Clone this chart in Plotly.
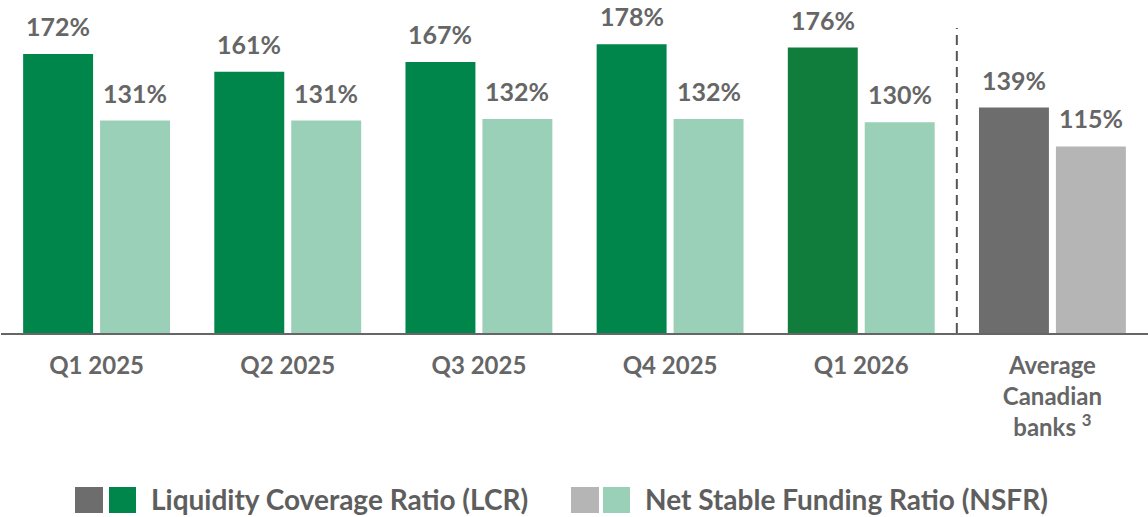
import plotly.graph_objects as go

periods = ["Q1 2025", "Q2 2025", "Q3 2025", "Q4 2025", "Q1 2026",
           "Average<br>Canadian<br>banks <sup>3</sup>"]
lcr = [172, 161, 167, 178, 176, 139]
nsfr = [131, 131, 132, 132, 130, 115]
lcr_colors = ["#00854A", "#00854A", "#00854A", "#00854A", "#117D3D", "#6D6D6D"]
nsfr_colors = ["#9ACFB8", "#9ACFB8", "#9ACFB8", "#9ACFB8", "#9ACFB8", "#B5B5B5"]
legend_names = ["Liquidity Coverage Ratio (LCR)", "Net Stable Funding Ratio (NSFR)"]

W, H = 1148, 517
L, R, T, B = 1, 0, 0, 184
PW, PH = W - L - R, H - T - B
YMAX = 205.3
FONT = "Lato"
TXT = "#666666"

def px_x(px):
    return (px - L) / PW

def px_y(py):
    return (H - B - py) / PH

x = list(range(len(periods)))
fig = go.Figure()
fig.add_trace(go.Bar(x=x, y=lcr, marker=dict(color=lcr_colors, line=dict(width=0)),
                     name=legend_names[0], showlegend=False))
fig.add_trace(go.Bar(x=x, y=nsfr, marker=dict(color=nsfr_colors, line=dict(width=0)),
                     name=legend_names[1], showlegend=False))

ann = []
off = 0.201
for i in x:
    for v, dx in ((lcr[i], -off), (nsfr[i], off)):
        ann.append(dict(x=i + dx, y=v, xref="x", yref="y", text=f"<b>{v}%</b>",
                        showarrow=False, yanchor="bottom", yshift=11,
                        font=dict(family=FONT, size=25, color=TXT)))

# legend (drawn)
shapes = []
sw = [(75, 103, "#6D6D6D"), (109, 136, "#00854A"), (571, 599, "#B5B5B5"), (603, 630, "#9ACFB8")]
for x0, x1, c in sw:
    shapes.append(dict(type="rect", xref="paper", yref="paper",
                       x0=px_x(x0), x1=px_x(x1), y0=px_y(513), y1=px_y(487),
                       fillcolor=c, line=dict(width=0)))
for tx, name in ((149, legend_names[0]), (643, legend_names[1])):
    ann.append(dict(x=px_x(tx), y=px_y(499), xref="paper", yref="paper", text=f"<b>{name}</b>",
                    showarrow=False, xanchor="left", yanchor="middle",
                    font=dict(family=FONT, size=28, color="#5E5E5E")))

# separator
shapes.append(dict(type="line", xref="x", yref="y", x0=4.5, x1=4.5, y0=0, y1=188,
                   line=dict(color="#555555", width=2, dash="10px,6px")))

fig.update_layout(
    width=W, height=H, margin=dict(l=L, r=R, t=T, b=B),
    paper_bgcolor="white", plot_bgcolor="white",
    barmode="group", bargap=0.195, bargroupgap=0.091,
    annotations=ann, shapes=shapes,
    xaxis=dict(tickmode="array", tickvals=x, ticktext=[f"<b>{p}</b>" for p in periods],
               range=[-0.5, 5.5], showline=True, linecolor="#666666", linewidth=2,
               showgrid=False, zeroline=False, ticks="", ticklabelstandoff=10,
               tickfont=dict(family=FONT, size=24, color=TXT)),
    yaxis=dict(range=[0, YMAX], visible=False, showgrid=False, zeroline=False),
)
fig.write_html("out.html", config={"displayModeBar": False},
               post_script="document.body.style.margin='0';document.body.style.overflow='hidden';")
